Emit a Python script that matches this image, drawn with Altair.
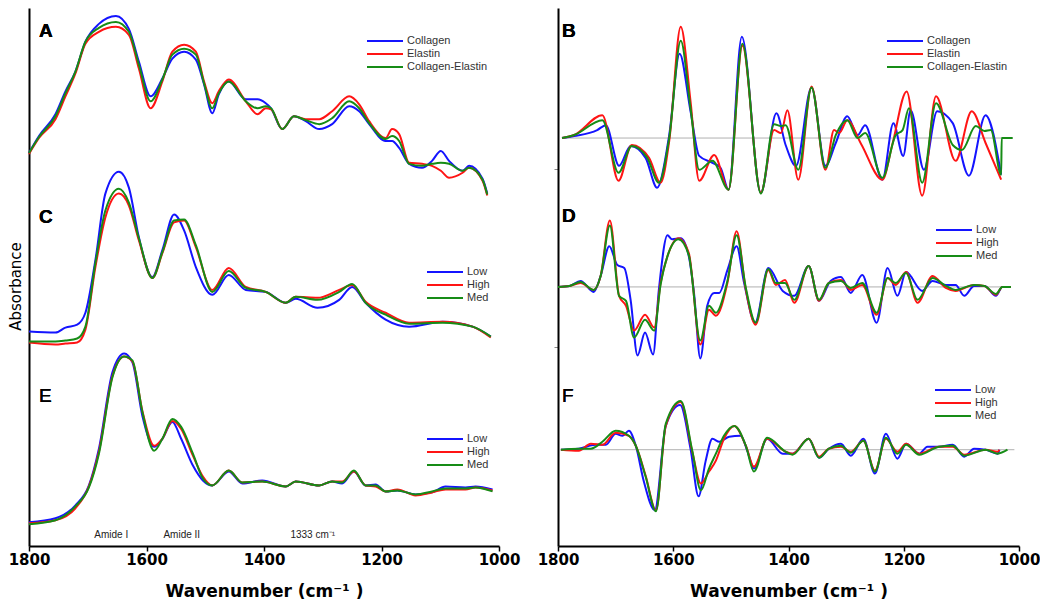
import altair as alt
import pandas as pd

# ---------------- Left column: absorbance spectra (A, C, E) ----------------
A_wn = [1800, 1783, 1755, 1738, 1721, 1704, 1681, 1652, 1630, 1613, 1593, 1573, 1556, 1536, 1516,
        1502, 1488, 1477, 1460, 1431, 1411, 1397, 1388, 1369, 1349, 1329, 1306, 1284, 1255, 1238,
        1221, 1193, 1182, 1170, 1153, 1131, 1114, 1099, 1085, 1062, 1051, 1028, 1020]
A_collagen = [0.38, 0.55, 0.77, 1.00, 1.20, 1.50, 1.68, 1.76, 1.63, 1.30, 0.95, 1.13, 1.33, 1.40, 1.32,
              1.07, 0.78, 0.97, 1.10, 0.92, 0.92, 0.88, 0.83, 0.62, 0.75, 0.70, 0.62, 0.67, 0.85, 0.80,
              0.67, 0.50, 0.50, 0.43, 0.27, 0.23, 0.30, 0.40, 0.30, 0.20, 0.25, 0.12, -0.03]
A_elastin = [0.37, 0.53, 0.72, 0.95, 1.18, 1.48, 1.60, 1.65, 1.57, 1.23, 0.83, 1.10, 1.40, 1.47, 1.40,
             1.10, 0.88, 1.00, 1.12, 0.90, 0.77, 0.83, 0.82, 0.62, 0.75, 0.72, 0.72, 0.80, 0.95, 0.87,
             0.70, 0.53, 0.62, 0.57, 0.28, 0.27, 0.25, 0.20, 0.13, 0.18, 0.23, 0.10, -0.05]
A_mix = [0.38, 0.54, 0.75, 0.98, 1.20, 1.50, 1.64, 1.70, 1.60, 1.27, 0.90, 1.12, 1.37, 1.43, 1.37,
         1.08, 0.83, 0.98, 1.10, 0.90, 0.83, 0.85, 0.83, 0.62, 0.75, 0.71, 0.67, 0.73, 0.90, 0.83,
         0.68, 0.52, 0.55, 0.50, 0.27, 0.25, 0.27, 0.28, 0.27, 0.20, 0.23, 0.11, -0.04]

C_wn = [1800, 1755, 1738, 1718, 1704, 1687, 1670, 1647, 1630, 1613, 1590, 1573, 1553, 1536, 1516,
        1488, 1460, 1431, 1397, 1363, 1346, 1309, 1272, 1250, 1227, 1193, 1153, 1096, 1045, 1014]
C_low = [0.23, 0.22, 0.27, 0.30, 0.42, 0.95, 1.62, 1.84, 1.68, 1.18, 0.78, 1.05, 1.41, 1.25, 0.88,
         0.60, 0.80, 0.65, 0.63, 0.52, 0.56, 0.47, 0.55, 0.68, 0.52, 0.35, 0.28, 0.33, 0.28, 0.18]
C_high = [0.12, 0.10, 0.11, 0.12, 0.25, 0.88, 1.38, 1.62, 1.50, 1.15, 0.77, 1.02, 1.33, 1.35, 1.08,
          0.65, 0.87, 0.68, 0.63, 0.52, 0.58, 0.57, 0.65, 0.70, 0.53, 0.42, 0.32, 0.33, 0.28, 0.17]
C_med = [0.13, 0.13, 0.14, 0.16, 0.28, 0.92, 1.45, 1.67, 1.53, 1.17, 0.77, 1.03, 1.35, 1.36, 1.10,
         0.63, 0.84, 0.67, 0.63, 0.52, 0.58, 0.55, 0.63, 0.71, 0.52, 0.40, 0.31, 0.32, 0.28, 0.18]

E_wn = [1800, 1755, 1721, 1698, 1681, 1658, 1638, 1624, 1607, 1587, 1573, 1556, 1541, 1521, 1504,
        1488, 1460, 1437, 1403, 1363, 1346, 1306, 1284, 1267, 1247, 1227, 1210, 1193, 1173, 1142,
        1114, 1091, 1057, 1040, 1011]
E_low = [0.24, 0.28, 0.41, 0.61, 0.98, 1.75, 1.94, 1.85, 1.31, 1.00, 1.08, 1.25, 1.08, 0.81, 0.66,
         0.61, 0.75, 0.63, 0.66, 0.60, 0.65, 0.61, 0.65, 0.63, 0.75, 0.61, 0.62, 0.55, 0.56, 0.52,
         0.54, 0.60, 0.59, 0.60, 0.57]
E_high = [0.23, 0.26, 0.38, 0.60, 0.95, 1.71, 1.91, 1.86, 1.36, 1.01, 1.08, 1.26, 1.18, 0.91, 0.70,
          0.61, 0.76, 0.64, 0.65, 0.60, 0.65, 0.61, 0.65, 0.65, 0.75, 0.61, 0.60, 0.55, 0.57, 0.51,
          0.54, 0.57, 0.57, 0.59, 0.56]
E_med = [0.22, 0.26, 0.40, 0.59, 0.93, 1.70, 1.91, 1.87, 1.35, 0.96, 1.08, 1.28, 1.20, 0.93, 0.68,
         0.61, 0.76, 0.64, 0.65, 0.60, 0.65, 0.61, 0.65, 0.64, 0.76, 0.61, 0.61, 0.55, 0.56, 0.52,
         0.55, 0.58, 0.58, 0.59, 0.55]

# ---------------- Right column: second-derivative spectra (B, D, F) ----------------
B_col_wn = [1793, 1772, 1732, 1717, 1694, 1674, 1648, 1628, 1607, 1589, 1570, 1555, 1532, 1518, 1504,
            1481, 1448, 1421, 1405, 1387, 1360, 1336, 1318, 1298, 1280, 1267, 1237, 1218, 1201, 1188,
            1165, 1142, 1115, 1087, 1058, 1031]
B_col = [0, 0.02, 0.08, 0.13, -0.28, -0.08, -0.20, -0.50, 0.03, 0.85, 0.27, -0.18, -0.25, -0.30, -0.52,
         1.02, -0.55, 0.25, -0.07, -0.28, 0.51, -0.28, -0.05, 0.22, 0.03, 0.13, -0.42, 0.15, -0.18, 0.28,
         -0.32, 0.27, 0.15, -0.38, 0.23, -0.37]
B_ela_wn = [1793, 1772, 1723, 1695, 1672, 1642, 1622, 1607, 1587, 1570, 1555, 1529, 1504, 1480, 1448,
            1425, 1413, 1402, 1383, 1360, 1336, 1321, 1312, 1298, 1274, 1237, 1220, 1195, 1168, 1144,
            1110, 1082, 1058, 1031]
B_ela = [0, 0.03, 0.23, -0.43, -0.07, -0.20, -0.45, -0.03, 1.12, 0.37, -0.43, -0.17, -0.52, 0.93, -0.55,
         0.08, 0.05, 0.28, -0.42, 0.52, -0.32, 0.08, 0.05, 0.18, -0.06, -0.42, -0.07, 0.47, -0.58, 0.42,
         -0.23, 0.27, -0.05, -0.42]
B_mix_wn = [1793, 1772, 1723, 1695, 1672, 1645, 1625, 1607, 1587, 1570, 1555, 1532, 1504, 1480, 1448,
            1425, 1413, 1405, 1383, 1360, 1336, 1318, 1298, 1280, 1267, 1237, 1214, 1202, 1191, 1168,
            1144, 1115, 1099, 1075, 1060, 1049, 1031, 1030, 1011]
B_mix = [0, 0.03, 0.18, -0.35, -0.08, -0.20, -0.45, 0.0, 0.98, 0.30, -0.32, -0.23, -0.52, 0.95, -0.56,
         0.14, 0.12, 0.13, -0.32, 0.51, -0.30, 0.03, 0.18, 0.0, 0.05, -0.40, 0.03, 0.08, 0.30, -0.45,
         0.35, -0.07, -0.12, 0.12, 0.07, 0.08, -0.37, 0, 0]

D_low_wn = [1800, 1780, 1761, 1738, 1726, 1711, 1697, 1685, 1674, 1662, 1649, 1635, 1625, 1610, 1602,
            1587, 1573, 1564, 1553, 1541, 1529, 1520, 1506, 1490, 1477, 1458, 1435, 1410, 1390, 1365,
            1347, 1327, 1309, 1292, 1272, 1247, 1228, 1211, 1196, 1168, 1150, 1127, 1110, 1095, 1078,
            1060, 1040, 1029, 1014]
D_low = [0, 0.01, 0.06, -0.05, 0.11, 0.41, 0.22, 0.19, -0.13, -0.69, -0.46, -0.68, -0.03, 0.52, 0.48,
         0.49, 0.31, -0.06, -0.72, -0.19, -0.06, -0.06, 0.17, 0.41, 0.04, -0.36, 0.19, -0.04, -0.09, 0.21,
         -0.14, 0.06, 0.10, -0.06, 0.12, -0.36, 0.19, -0.09, 0.15, -0.04, 0.06, 0.02, 0.02, -0.09, 0.01,
         0.01, -0.09, 0, 0]
D_hm_wn = [1800, 1780, 1761, 1738, 1726, 1710, 1694, 1682, 1668, 1649, 1633, 1622, 1610, 1591, 1573,
           1553, 1538, 1526, 1506, 1490, 1474, 1457, 1435, 1422, 1406, 1390, 1365, 1347, 1330, 1309,
           1292, 1272, 1247, 1228, 1214, 1196, 1176, 1150, 1127, 1110, 1078, 1060, 1040, 1029, 1014]
D_high = [0, 0.01, 0.04, -0.03, 0.11, 0.67, -0.09, -0.19, -0.44, -0.28, -0.41, 0.04, 0.31, 0.49, 0.34,
          -0.58, -0.23, -0.29, 0.04, 0.56, -0.03, -0.38, 0.17, 0.02, 0.07, -0.16, 0.21, -0.14, 0.04, 0.07,
          -0.03, 0.02, -0.28, 0.09, 0.02, 0.15, -0.16, 0.11, -0.01, -0.04, 0.02, 0.01, -0.08, 0, 0]
D_med = [0, 0.01, 0.05, -0.03, 0.11, 0.62, -0.09, -0.14, -0.51, -0.33, -0.44, 0.02, 0.31, 0.48, 0.32,
         -0.54, -0.19, -0.26, 0.06, 0.52, -0.01, -0.36, 0.18, 0.04, 0.04, -0.13, 0.21, -0.13, 0.04, 0.06,
         -0.01, 0.04, -0.26, 0.09, 0.04, 0.14, -0.13, 0.09, 0.01, -0.03, 0.02, 0.01, -0.07, 0, 0]

F_low_wn = [1795, 1764, 1735, 1717, 1700, 1688, 1677, 1665, 1651, 1632, 1613, 1588, 1570, 1556, 1544,
            1532, 1520, 1503, 1483, 1471, 1460, 1437, 1410, 1393, 1365, 1347, 1330, 1309, 1292, 1270,
            1250, 1231, 1211, 1196, 1173, 1159, 1139, 1115, 1095, 1078, 1058, 1037, 1034]
F_low = [0, 0.01, 0.05, 0.05, 0.16, 0.14, 0.19, 0.04, -0.32, -0.61, 0.24, 0.45, 0.01, -0.47, -0.12,
         0.11, 0.08, 0.13, 0.14, -0.02, -0.19, 0.11, -0.04, -0.04, 0.11, -0.08, 0.01, 0.06, -0.06, 0.11,
         -0.24, 0.16, -0.09, 0.06, -0.04, 0.03, 0.03, 0.05, -0.07, 0.01, 0, -0.04, 0]
F_high_wn = [1795, 1764, 1743, 1723, 1700, 1677, 1665, 1648, 1630, 1613, 1587, 1567, 1552, 1538, 1526,
             1512, 1494, 1474, 1460, 1437, 1405, 1393, 1365, 1347, 1330, 1309, 1292, 1270, 1250, 1231,
             1211, 1196, 1173, 1139, 1115, 1095, 1058, 1037, 1034]
F_high = [0, -0.01, 0.06, 0.05, 0.17, 0.14, 0.04, -0.26, -0.61, 0.24, 0.48, -0.02, -0.34, -0.22, -0.11,
          0.11, 0.24, 0.04, -0.17, 0.11, -0.02, -0.04, 0.11, -0.07, 0.01, 0.03, -0.02, 0.09, -0.21, 0.11,
          -0.02, 0.06, -0.04, 0.03, 0.03, -0.05, 0, -0.02, 0]
F_med_wn = [1795, 1764, 1743, 1723, 1700, 1677, 1665, 1648, 1630, 1613, 1587, 1567, 1552, 1538, 1526,
            1512, 1494, 1474, 1460, 1437, 1405, 1393, 1365, 1347, 1330, 1309, 1292, 1270, 1250, 1231,
            1211, 1196, 1173, 1139, 1115, 1095, 1058, 1037, 1020]
F_med = [0, 0.01, 0.01, 0.08, 0.19, 0.14, 0.04, -0.27, -0.62, 0.26, 0.49, -0.01, -0.41, -0.19, -0.04,
         0.14, 0.24, 0.04, -0.22, 0.12, -0.02, -0.05, 0.11, -0.08, 0.01, 0.04, -0.03, 0.09, -0.22, 0.12,
         -0.04, 0.05, -0.05, 0.03, 0.04, -0.06, 0, -0.04, 0]

# zero (baseline) lines of the derivative panels
ZERO_PANELS = ["B", "D", "F"]
ZERO_START = [1793, 1800, 1795]
ZERO_END = [1011, 1014, 1008]

# vertical stacking offset of each panel (same units as the spectra)
OFFSET = {"A": 3.58, "C": 1.93, "E": 0.0, "B": 4.11, "D": 2.61, "F": 0.97}

TISSUE = ["Collagen", "Elastin", "Collagen-Elastin"]
DOSE = ["Low", "High", "Med"]
COLORS = ["#1414ff", "#ff1414", "#168c16"]

ANNOT_TEXT = ["Amide I", "Amide II", "1333 cm\u207b\u00b9"]
ANNOT_WN = [1660, 1540, 1317]


def long_df(panel, names, wn_lists, val_lists):
    rows = []
    for name, wns, vals in zip(names, wn_lists, val_lists):
        assert len(wns) == len(vals), (panel, name)
        for w, v in zip(wns, vals):
            rows.append({"wn": w, "y": round(v + OFFSET[panel], 4), "series": name})
    return pd.DataFrame(rows)


dfA = long_df("A", TISSUE, [A_wn] * 3, [A_collagen, A_elastin, A_mix])
dfC = long_df("C", DOSE, [C_wn] * 3, [C_low, C_high, C_med])
dfE = long_df("E", DOSE, [E_wn] * 3, [E_low, E_high, E_med])
dfB = long_df("B", TISSUE, [B_col_wn, B_ela_wn, B_mix_wn], [B_col, B_ela, B_mix])
dfD = long_df("D", DOSE, [D_low_wn, D_hm_wn, D_hm_wn], [D_low, D_high, D_med])
dfF = long_df("F", DOSE, [F_low_wn, F_high_wn, F_med_wn], [F_low, F_high, F_med])

zero_df = pd.DataFrame({
    "start": ZERO_START,
    "end": ZERO_END,
    "y": [OFFSET[p] for p in ZERO_PANELS],
})
annot_df = pd.DataFrame({"text": ANNOT_TEXT, "wn": ANNOT_WN})

H = 538
Y_TOP = 5.42
xscale = alt.Scale(domain=[1000, 1800], reverse=True, nice=False, zero=False)
yscale = alt.Scale(domain=[0, Y_TOP], nice=False, zero=False)

xaxis = alt.Axis(
    values=[1800, 1600, 1400, 1200, 1000], format="d", title="Wavenumber (cm\u207b\u00b9 )",
    labelFont="DejaVu Sans", labelFontWeight="bold", labelFontSize=15, labelColor="black",
    labelFlush=False, labelOverlap=False, labelPadding=1, tickSize=5, tickColor="black", tickWidth=1.5,
    domainColor="black", domainWidth=2, grid=False,
    titleFont="DejaVu Sans", titleFontWeight="bold", titleFontSize=17, titleColor="black",
    titlePadding=16,
)
yaxis_left = alt.Axis(
    title="Absorbance", labels=False, ticks=False, grid=False, domainColor="black", domainWidth=2,
    titleFont="DejaVu Sans", titleFontWeight="normal", titleFontSize=15, titleColor="black",
    titlePadding=6, titleY=278,
)
yaxis_right = alt.Axis(
    title=None, labels=False, ticks=True, tickSize=4, tickColor="#888", values=[2.0, 3.8],
    grid=False, domainColor="black", domainWidth=2,
)


def spectra(df, names, yaxis, lx, ly):
    return alt.Chart(df).mark_line(strokeWidth=2, interpolate="monotone").encode(
        x=alt.X("wn:Q", scale=xscale, axis=xaxis),
        y=alt.Y("y:Q", scale=yscale, axis=yaxis),
        color=alt.Color(
            "series:N",
            scale=alt.Scale(domain=names, range=COLORS),
            legend=alt.Legend(
                orient="none", legendX=lx, legendY=ly, title=None,
                symbolType="M-3,0H3", symbolSize=144, symbolStrokeWidth=2,
                labelFont="Liberation Sans", labelFontSize=11, labelColor="#333",
                labelOffset=15, rowPadding=1, padding=0,
            ),
        ),
    )


def letter(txt, x, y, bold=True):
    return alt.Chart(annot_df).mark_text(
        text=txt, align="left", baseline="alphabetic", font="Liberation Sans",
        fontSize=19, fontWeight="bold" if bold else "normal", color="black",
    ).encode(x=alt.value(x), y=alt.value(y))


annot = alt.Chart(annot_df).mark_text(
    font="Liberation Sans", fontSize=10, color="#222", baseline="alphabetic",
).encode(
    x=alt.X("wn:Q", scale=xscale, axis=xaxis),
    y=alt.value(530),
    text="text:N",
)

left = alt.layer(
    spectra(dfA, TISSUE, yaxis_left, 349, 26),
    spectra(dfC, DOSE, yaxis_left, 409, 257),
    spectra(dfE, DOSE, yaxis_left, 409, 424),
    annot,
    letter("A", 10, 29),
    letter("C", 10, 215),
    letter("E", 10, 394, bold=False),
).resolve_scale(color="independent").properties(width=470, height=H)

zero_rules = alt.Chart(zero_df).mark_rule(color="#b0b0b0", strokeWidth=1).encode(
    x=alt.X("start:Q", scale=xscale, axis=xaxis),
    x2="end:Q",
    y=alt.Y("y:Q", scale=yscale, axis=yaxis_right),
)

right = alt.layer(
    zero_rules,
    spectra(dfB, TISSUE, yaxis_right, 340, 26),
    spectra(dfD, DOSE, yaxis_right, 389, 215),
    spectra(dfF, DOSE, yaxis_right, 388, 375),
    letter("B", 4, 29),
    letter("D", 4, 214),
    letter("F", 4, 394, bold=False),
).resolve_scale(color="independent").properties(width=461, height=H)

chart = alt.hconcat(left, right, spacing=59, bounds="flush").resolve_scale(
    color="independent"
).configure_view(stroke=None).properties(
    padding={"left": 0, "top": 0, "right": 0, "bottom": 0}
)

chart.save("out.html", embed_options={"renderer": "svg", "actions": False})
